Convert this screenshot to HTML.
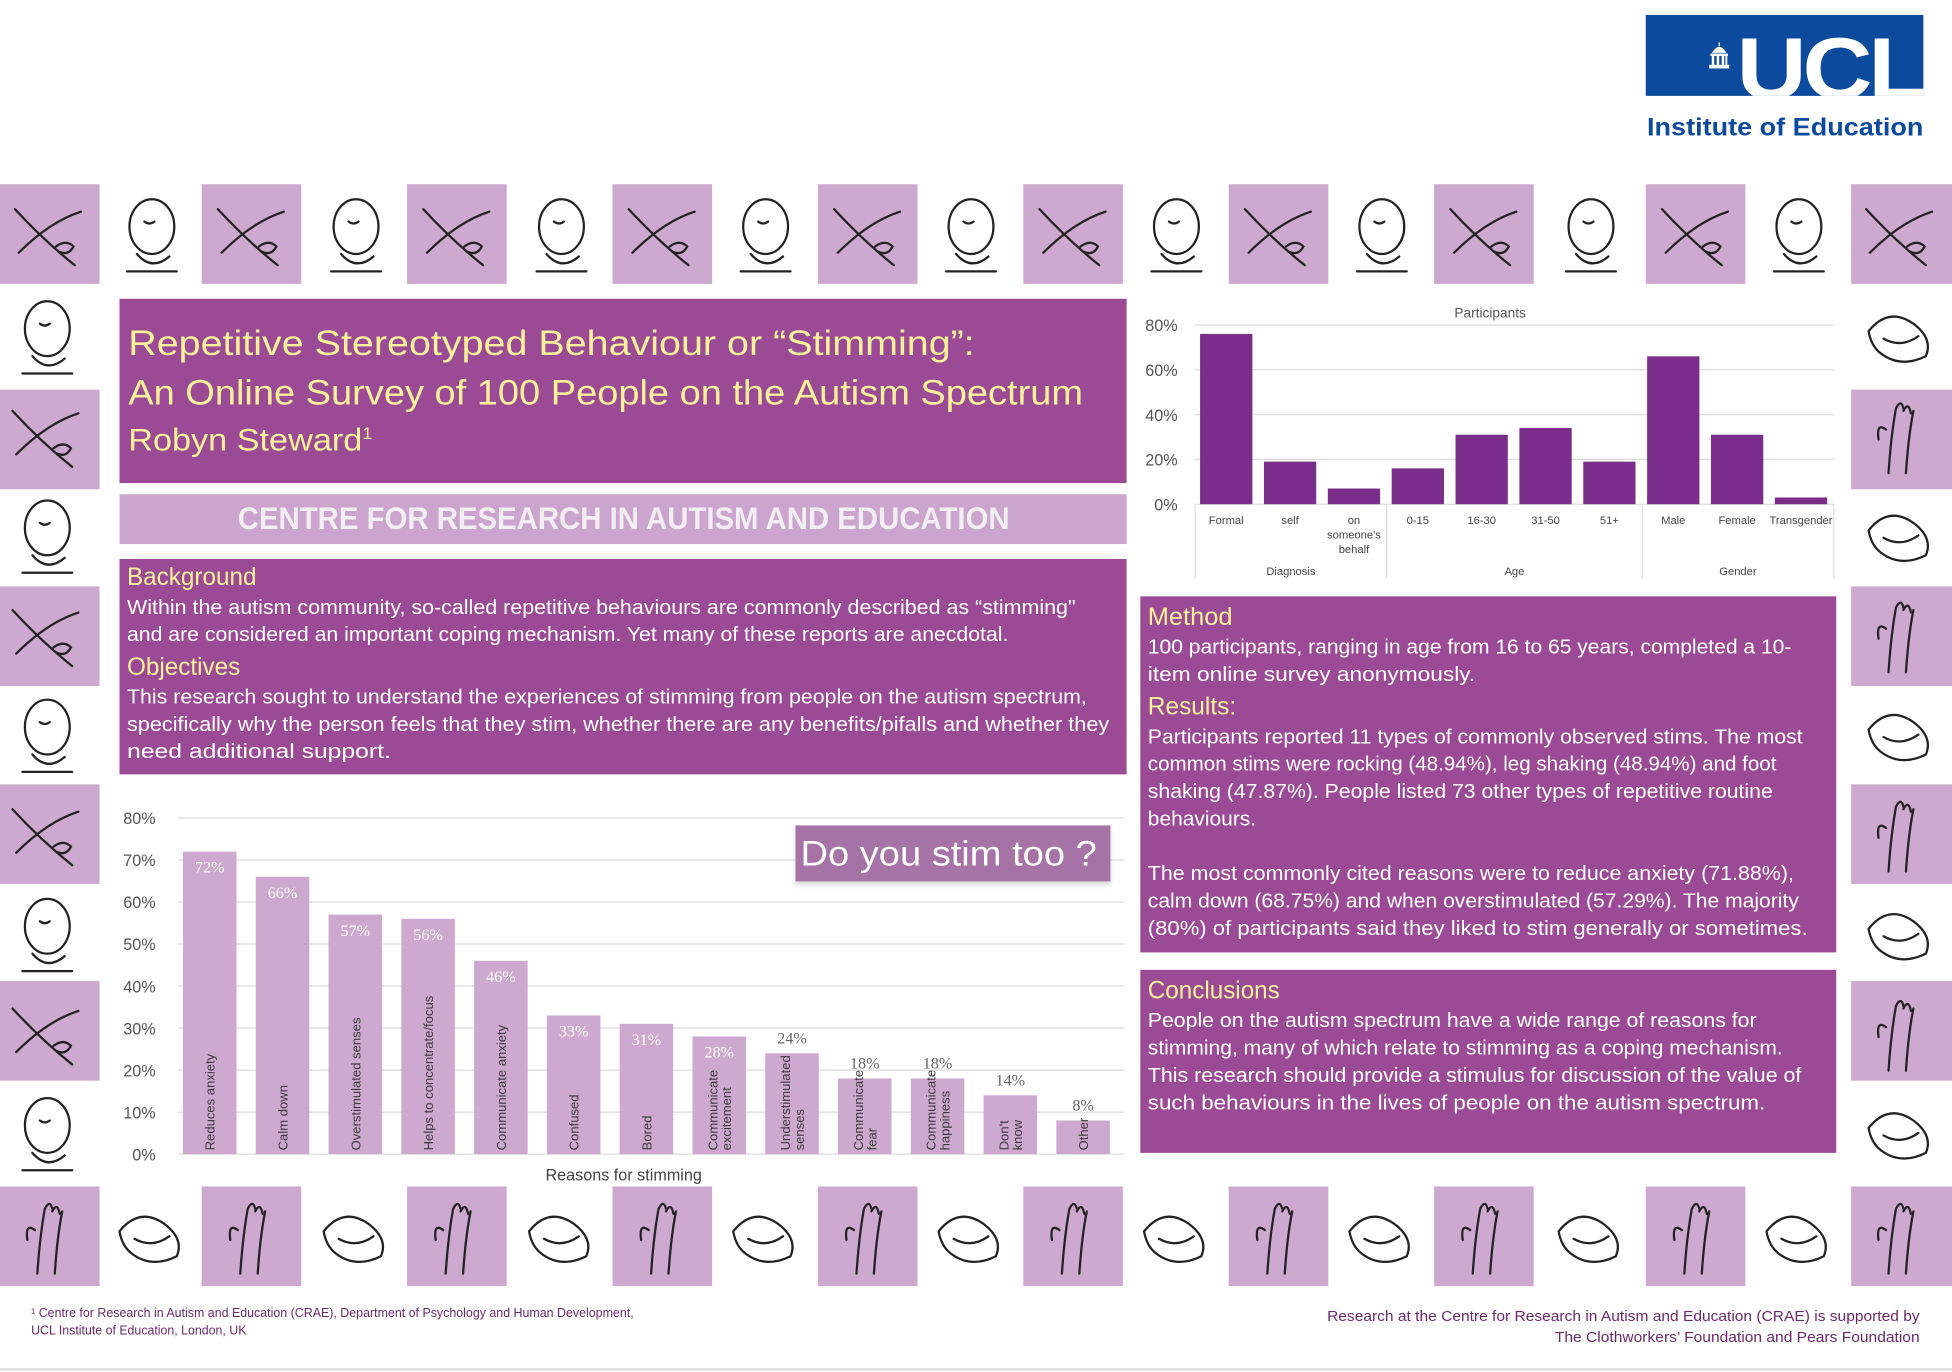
<!DOCTYPE html>
<html><head><meta charset="utf-8">
<style>
html,body{margin:0;padding:0;background:#fff;}
body{width:1952px;height:1372px;overflow:hidden;position:relative;font-family:"Liberation Sans",sans-serif;}
#root{position:absolute;left:0;top:0;width:1568px;height:1102px;transform:scale(1.2449,1.245);transform-origin:0 0;}
.abs{position:absolute;}
.box{position:absolute;background:#9b4a96;}
.line{white-space:nowrap;position:absolute;left:0;transform-origin:0 0;}
.y{color:#fff09a;}
.w{color:#fff;}
</style></head><body>
<div id="root">

<!-- UCL logo -->
<div class="abs" style="left:1322px;top:12px;width:223px;height:65px;background:#0b4a9c;overflow:hidden;">
  <svg class="abs" style="left:49px;top:20px" width="20" height="26" viewBox="0 0 20 26">
    <path d="M10 2 L10 5 M5 10 Q10 2 15 10 Z" stroke="#fff" fill="#fff"/>
    <rect x="3" y="11" width="14" height="2" fill="#fff"/>
    <rect x="4" y="13" width="2" height="7" fill="#fff"/><rect x="8" y="13" width="2" height="7" fill="#fff"/><rect x="12" y="13" width="2" height="7" fill="#fff"/><rect x="15" y="13" width="1.5" height="7" fill="#fff"/>
    <rect x="2" y="20" width="16" height="3" fill="#fff"/>
  </svg>
  <div class="line" data-w="150" style="left:73px;top:8px;color:#fff;font:bold 70px 'Liberation Sans',sans-serif;letter-spacing:-3px;line-height:70px;">UCL</div>
</div>
<div class="line" data-w="222" style="left:1323px;top:92px;color:#0b4a9c;font:bold 20px 'Liberation Sans',sans-serif;">Institute of Education</div>

<svg id="tiles" class="abs" style="left:0;top:0" width="1568" height="1102"></svg>

<!-- Title -->
<div class="box" style="left:96px;top:240px;width:809px;height:148px;">
  <div class="line y" style="left:7px;top:20px;font-size:28px;" data-w="680">Repetitive Stereotyped Behaviour or “Stimming”:</div>
  <div class="line y" style="left:7px;top:60px;font-size:28px;" data-w="767">An Online Survey of 100 People on the Autism Spectrum</div>
  <div class="line y" style="left:7px;top:100px;font-size:25px;" data-w="196">Robyn Steward<sup style="font-size:13px">1</sup></div>
</div>
<div class="abs" style="left:96px;top:397px;width:809px;height:40px;background:#cba5cd;">
  <div class="line" style="left:95px;top:6px;font:bold 25px 'Liberation Sans',sans-serif;color:#f3eef3;" data-w="620">CENTRE FOR RESEARCH IN AUTISM AND EDUCATION</div>
</div>

<!-- Background -->
<div class="box" style="left:96px;top:449px;width:809px;height:173px;">
  <div class="line y" style="left:6px;top:4px;font-size:20px;" data-w="104">Background</div>
  <div class="line w" style="left:6px;top:31px;font-size:16px;" data-w="762">Within the autism community, so-called repetitive behaviours are commonly described as “stimming"</div>
  <div class="line w" style="left:6px;top:53px;font-size:16px;" data-w="708">and are considered an important coping mechanism. Yet many of these reports are anecdotal.</div>
  <div class="line y" style="left:6px;top:76px;font-size:20px;" data-w="91">Objectives</div>
  <div class="line w" style="left:6px;top:103px;font-size:16px;" data-w="771">This research sought to understand the experiences of stimming from people on the autism spectrum,</div>
  <div class="line w" style="left:6px;top:125px;font-size:16px;" data-w="789">specifically why the person feels that they stim, whether there are any benefits/pifalls and whether they</div>
  <div class="line w" style="left:6px;top:147px;font-size:16px;" data-w="212">need additional support.</div>
</div>

<!-- Method/Results -->
<div class="box" style="left:916px;top:479px;width:559px;height:286px;">
  <div class="line y" style="left:6px;top:6px;font-size:20px;" data-w="68">Method</div>
  <div class="line w" style="left:6px;top:33px;font-size:16px;" data-w="517">100 participants, ranging in age from 16 to 65 years, completed a 10-</div>
  <div class="line w" style="left:6px;top:55px;font-size:16px;" data-w="263">item online survey anonymously.</div>
  <div class="line y" style="left:6px;top:78px;font-size:20px;" data-w="71">Results:</div>
  <div class="line w" style="left:6px;top:105px;font-size:16px;" data-w="526">Participants reported 11 types of commonly observed stims. The most</div>
  <div class="line w" style="left:6px;top:127px;font-size:16px;" data-w="505">common stims were rocking (48.94%), leg shaking (48.94%) and foot</div>
  <div class="line w" style="left:6px;top:149px;font-size:16px;" data-w="502">shaking (47.87%). People listed 73 other types of repetitive routine</div>
  <div class="line w" style="left:6px;top:171px;font-size:16px;" data-w="87">behaviours.</div>
  <div class="line w" style="left:6px;top:215px;font-size:16px;" data-w="519">The most commonly cited reasons were to reduce anxiety (71.88%),</div>
  <div class="line w" style="left:6px;top:237px;font-size:16px;" data-w="523">calm down (68.75%) and when overstimulated (57.29%). The majority</div>
  <div class="line w" style="left:6px;top:259px;font-size:16px;" data-w="530">(80%) of participants said they liked to stim generally or sometimes.</div>
</div>

<!-- Conclusions -->
<div class="box" style="left:916px;top:779px;width:559px;height:147px;">
  <div class="line y" style="left:6px;top:6px;font-size:20px;" data-w="106">Conclusions</div>
  <div class="line w" style="left:6px;top:33px;font-size:16px;" data-w="489">People on the autism spectrum have a wide range of reasons for</div>
  <div class="line w" style="left:6px;top:55px;font-size:16px;" data-w="510">stimming, many of which relate to stimming as a coping mechanism.</div>
  <div class="line w" style="left:6px;top:77px;font-size:16px;" data-w="525">This research should provide a stimulus for discussion of the value of</div>
  <div class="line w" style="left:6px;top:99px;font-size:16px;" data-w="496">such behaviours in the lives of people on the autism spectrum.</div>
</div>

<svg id="mainChart" class="abs" style="left:0;top:0" width="1568" height="1102"></svg>
<svg id="partChart" class="abs" style="left:0;top:0" width="1568" height="1102"></svg>

<div class="abs" style="left:639px;top:663px;width:253px;height:45px;background:#a673a6;box-shadow:0 3px 4px rgba(0,0,0,0.15);">
  <div class="line" style="left:4px;top:7px;font-size:28px;color:#fff;" data-w="238">Do you stim too ?</div>
</div>

<!-- Footer -->
<div class="line" style="left:25px;top:1050px;font-size:10px;color:#6a2a6a;" data-w="484">¹ Centre for Research in Autism and Education (CRAE), Department of Psychology and Human Development,</div>
<div class="line" style="left:25px;top:1064px;font-size:10px;color:#6a2a6a;" data-w="173">UCL Institute of Education, London, UK</div>
<div class="line" style="left:1066px;top:1050px;font-size:12px;color:#6a2a6a;" data-w="476">Research at the Centre for Research in Autism and Education (CRAE) is supported by</div>
<div class="line" style="left:1249px;top:1067px;font-size:12px;color:#6a2a6a;" data-w="293">The Clothworkers’ Foundation and Pears Foundation</div>
<div class="abs" style="left:0;top:1099px;width:1568px;height:2px;background:#ddd;"></div>
</div>

<script>
// Reasons chart data
const reasonCats = ["Reduces anxiety","Calm down","Overstimulated senses","Helps to concentrate/focus","Communicate anxiety","Confused","Bored","Communicate excitement","Understimulated senses","Communicate fear","Communicate happiness","Don't know","Other"];
const reasonVals = [72,66,57,56,46,33,31,28,24,18,18,14,8];
const reasonTicks = [0,10,20,30,40,50,60,70,80];

// Participants chart data
const partCats = ["Formal","self","on someone's behalf","0-15","16-30","31-50","51+","Male","Female","Transgender"];
const partVals = [76,19,7,16,31,34,19,66,31,3];
const partGroups = ["Diagnosis","Age","Gender"];
const partGroupSizes = [3,4,3];
const partTicks = [0,20,40,60,80];

const NS="http://www.w3.org/2000/svg";
function mk(parent,tag,attrs,text){const e=document.createElementNS(NS,tag);for(const k in attrs)e.setAttribute(k,attrs[k]);if(text!==undefined)e.textContent=text;parent.appendChild(e);return e;}

// tiles
(function(){
  const svg=document.getElementById('tiles');
  const xs=[0,162,327,492,657,822,987,1152,1322,1487];
  const topY=148,botY=953;
  const cellsPurple=[];
  xs.forEach(x=>{cellsPurple.push([x,topY]);cellsPurple.push([x,botY]);});
  [313,471,630,788].forEach(y=>{cellsPurple.push([0,y]);cellsPurple.push([1487,y]);});
  cellsPurple.forEach(c=>{
    const r=mk(svg,'rect',{x:c[0],y:c[1],width:c[0]===1487?81:80,height:80,fill:'#cda8cf'});
    
    
  });
  const centers=[];
  const rowXs=[40,122,203,286,368,451,533,615,698,780,863,945,1028,1110,1193,1278,1363,1445,1527];
  rowXs.forEach(x=>{centers.push([x,188]);centers.push([x,993]);});
  [270,350,430,510,590,670,750,830,910].forEach(y=>{centers.push([38,y]);centers.push([1527,y]);});
  centers.forEach((c,i)=>{
    const g=mk(svg,'g',{transform:`translate(${c[0]},${c[1]})`,stroke:'#222',fill:'none','stroke-width':1.8,'stroke-linecap':'round'});
    
    
    const k=i%4;
    if(k===0){mk(g,'path',{d:'M-28 -20 Q-5 5 20 25 M-25 15 Q0 -10 25 -18 M5 10 q8 -6 14 0 q-4 8 -12 4'});}
    else if(k===1){mk(g,'path',{d:'M-10 30 Q-8 0 -4 -22 M4 30 Q6 0 10 -20 M-4 -22 q4 -8 6 0 M2 -20 q4 -8 6 2 M-12 -5 q-8 -6 -6 8'});}
    else if(k===2){mk(g,'ellipse',{cx:0,cy:-6,rx:18,ry:22});mk(g,'path',{d:'M-12 16 Q0 30 14 18 M-6 -10 q4 3 8 0 M-20 30 h40'});}
    else {mk(g,'path',{d:'M-26 -4 Q-10 -24 10 -10 Q26 2 20 16 Q0 26 -16 14 Q-24 8 -26 -4 M-14 2 q14 8 28 -2'});}
  });
})();

// Main chart
(function(){
  const svg=document.getElementById('mainChart');
  const x0=143,x1=903,yTop=657,yBot=927,vmax=80;
  const yS=v=>yBot-(v/vmax)*(yBot-yTop);
  const n=reasonCats.length, step=(x1-x0)/n, bw=43;
  reasonTicks.forEach(t=>{
    const l=mk(svg,'line',{x1:x0,x2:x1,y1:yS(t),y2:yS(t),stroke:'#dcdcdc','stroke-width':1});
    
    
    const tx=mk(svg,'text',{x:125,y:yS(t)+5,'text-anchor':'end','font-size':13,fill:'#555','font-family':'Liberation Sans'},t+'%');
    
    
  });
  reasonVals.forEach((v,i)=>{
    const bx=x0+4+i*step;
    const r=mk(svg,'rect',{x:bx,y:yS(v),width:bw,height:yS(0)-yS(v),fill:'#cda8cf'});
    
    
    const inside=v>=28;
    const lbl=mk(svg,'text',{x:bx+bw/2,y:inside?yS(v)+17:yS(v)-8,'text-anchor':'middle','font-size':13,fill:inside?'#fff':'#666','font-family':'Liberation Serif'},v+'%');
    
    
    const words=reasonCats[i];
    let lines=[words];
    if(v<=28 && words.indexOf(' ')>0){const p=words.split(' ');lines=[p[0],p.slice(1).join(' ')];}
    lines.forEach((ln,j)=>{
      const cx=bx+bw/2-(lines.length-1)*5.5+j*11+4;
      const t=mk(svg,'text',{x:cx,y:yS(0)-3,transform:`rotate(-90 ${cx} ${yS(0)-3})`,'font-size':10.5,fill:'#3a3a3a','font-family':'Liberation Sans'},ln);
      
      
    });
  });
  const xt=mk(svg,'text',{x:501,y:948,'text-anchor':'middle','font-size':13,fill:'#444','font-family':'Liberation Sans'},'Reasons for stimming');
  
  
})();

// Participants chart
(function(){
  const svg=document.getElementById('partChart');
  const x0=960,x1=1473,yTop=261,yBot=405,vmax=80;
  const yS=v=>yBot-(v/vmax)*(yBot-yTop);
  const n=partCats.length, step=(x1-x0)/n, bw=42;
  partTicks.forEach(t=>{
    const l=mk(svg,'line',{x1:x0,x2:x1,y1:yS(t),y2:yS(t),stroke:'#dcdcdc','stroke-width':1});
    
    
    const tx=mk(svg,'text',{x:946,y:yS(t)+5,'text-anchor':'end','font-size':13,fill:'#555','font-family':'Liberation Sans'},t+'%');
    
    
  });
  const title=mk(svg,'text',{x:1197,y:255,'text-anchor':'middle','font-size':11,fill:'#555','font-family':'Liberation Sans'},'Participants');
  
  
  partVals.forEach((v,i)=>{
    const bx=x0+4+i*step;
    const r=mk(svg,'rect',{x:bx,y:yS(v),width:bw,height:yS(0)-yS(v),fill:'#7b2d8b'});
    
    
    const cx=bx+bw/2;
    const parts=partCats[i]==="on someone's behalf"?["on","someone's","behalf"]:[partCats[i]];
    parts.forEach((p,j)=>{
      const t=mk(svg,'text',{x:cx,y:421+j*11.5,'text-anchor':'middle','font-size':9,fill:'#444','font-family':'Liberation Sans'},p);
      
      
    });
  });
  let idx=0;
  const bound=k=>x0+k*step;
  const sep0=mk(svg,'line',{x1:x0,x2:x0,y1:405,y2:465,stroke:'#dcdcdc'});
  
  
  partGroups.forEach((g,gi)=>{
    const a=bound(idx), b=bound(idx+partGroupSizes[gi]);
    idx+=partGroupSizes[gi];
    const s=mk(svg,'line',{x1:b,x2:b,y1:405,y2:465,stroke:'#dcdcdc'});
    
    
    const t=mk(svg,'text',{x:(a+b)/2,y:462,'text-anchor':'middle','font-size':9,fill:'#444','font-family':'Liberation Sans'},g);
    
    
  });
})();

document.querySelectorAll('.line[data-w]').forEach(el=>{
  const w=el.getBoundingClientRect().width/1.2449;
  const tw=parseFloat(el.getAttribute('data-w'));
  if(w>0) el.style.transform=`scaleX(${tw/w})`;
});
</script>
</body></html>
